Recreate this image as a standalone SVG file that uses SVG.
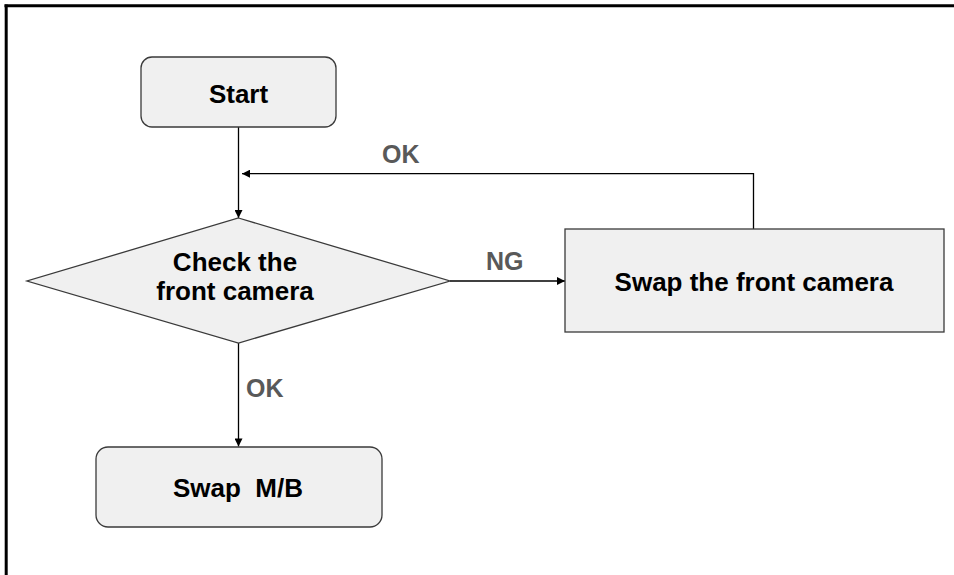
<svg xmlns="http://www.w3.org/2000/svg" width="954" height="575" viewBox="0 0 954 575">
<defs>
<marker id="arr" viewBox="0 0 10 10" refX="10" refY="5" markerWidth="9" markerHeight="8" markerUnits="userSpaceOnUse" orient="auto">
<path d="M0,0 L10,5 L0,10 z" fill="#000"/>
</marker>
<style>
.node{fill:#f0f0f0;stroke:#3a3a3a;stroke-width:1.3}
.t{font-family:"Liberation Sans",Arial,sans-serif;font-weight:bold;font-size:26px;fill:#000;text-anchor:middle}
.lbl{font-family:"Liberation Sans",Arial,sans-serif;font-weight:bold;font-size:25px;fill:#595959;text-anchor:start}
.c{fill:none;stroke:#000;stroke-width:1.3}
</style>
</defs>
<rect width="954" height="575" fill="#fff"/>
<g id="frame">
<line x1="4.5" y1="5.8" x2="954" y2="5.8" stroke="#000" stroke-width="3"/>
<line x1="6.2" y1="4.5" x2="6.2" y2="575" stroke="#000" stroke-width="3"/>
</g>
<g id="connectors">
<path class="c" d="M238.5,127 V218" marker-end="url(#arr)"/>
<path class="c" d="M753.5,229 V173.7 H242" marker-end="url(#arr)"/>
<path class="c" d="M450,281 H565" marker-end="url(#arr)"/>
<path class="c" d="M238.5,343 V446.5" marker-end="url(#arr)"/>
<text class="lbl" x="382" y="163">OK</text>
<text class="lbl" x="486" y="270">NG</text>
<text class="lbl" x="246" y="396.5">OK</text>
</g>
<g id="start">
<rect class="node" x="141" y="57" width="195" height="70" rx="11"/>
<text class="t" x="238.5" y="102.5">Start</text>
</g>
<g id="check">
<polygon class="node" points="238.5,218 450,281 238.5,343 27,281"/>
<text class="t" x="235" y="271">Check the</text>
<text class="t" x="235" y="300">front camera</text>
</g>
<g id="swapcam">
<rect class="node" x="565" y="229" width="379" height="103"/>
<text class="t" x="754" y="290.5">Swap the front camera</text>
</g>
<g id="swapmb">
<rect class="node" x="96" y="447" width="286" height="80" rx="12"/>
<text class="t" x="238" y="496.5" xml:space="preserve">Swap  M/B</text>
</g>
</svg>
